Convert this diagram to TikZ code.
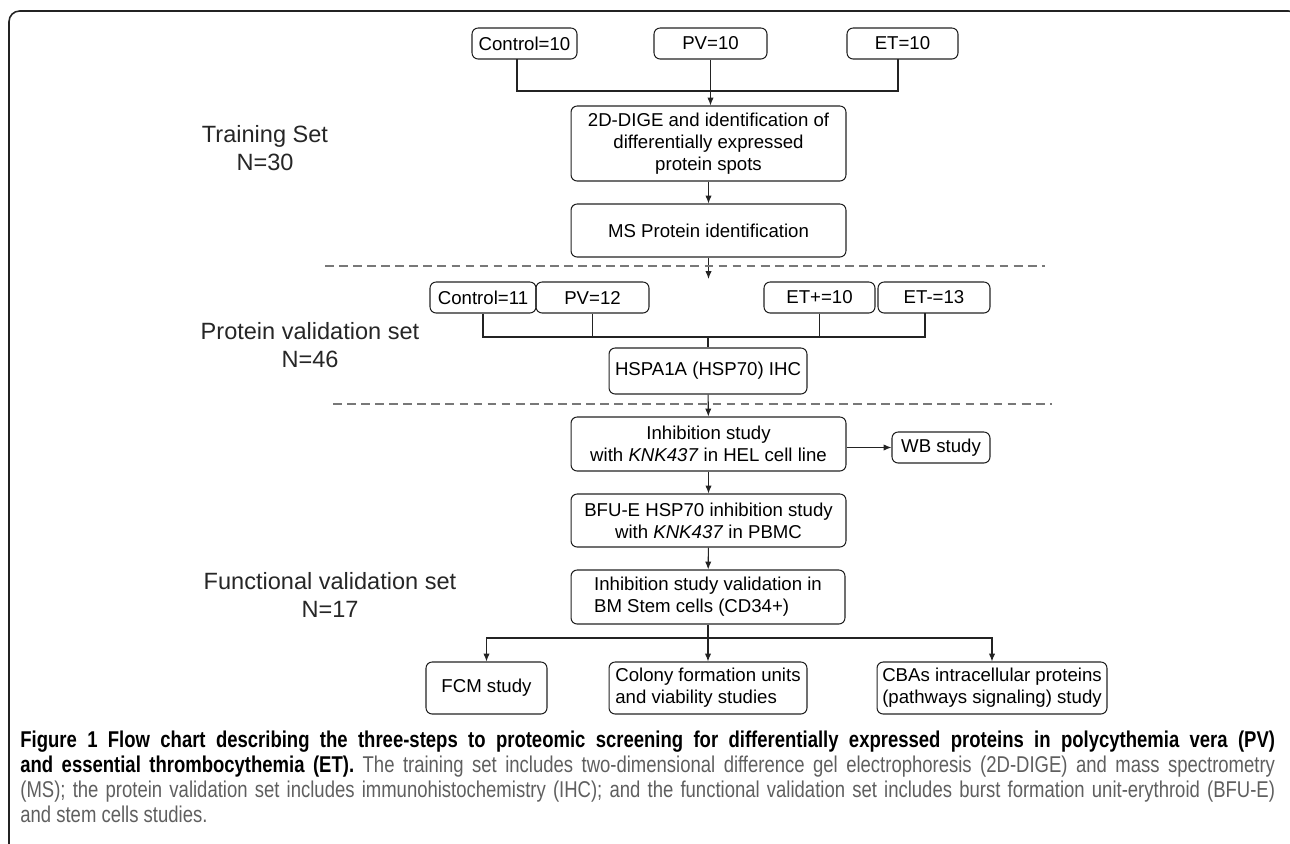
\documentclass[tikz,border=0pt]{standalone}
\usepackage{fontspec}
\setmainfont{Liberation Sans}
\newfontfamily\capfont[FakeStretch=0.81]{Liberation Sans}
\usetikzlibrary{arrows.meta}
\definecolor{linegray}{RGB}{35,35,35}
\definecolor{dashgray}{RGB}{120,120,120}
\definecolor{capgray}{RGB}{95,95,95}

\begin{document}
\begin{tikzpicture}[x=0.02cm,y=-0.02cm,
  box/.style={draw=linegray, line width=0.6pt, rounded corners=3.5pt, inner sep=0pt,
    align=center, font=\fontsize{10.6}{12.5}\selectfont},
  lbl/.style={align=center, text=black!85, font=\fontsize{13.4}{15.6}\selectfont},
  link/.style={draw=linegray, line width=0.6pt},
  arr/.style={link, -{Latex[length=4.5pt,width=3.6pt]}},
  sep/.style={draw=dashgray, line width=0.7pt, dash pattern=on 5pt off 3pt}]
\useasboundingbox (0,0) rectangle (1290,843);
\clip (0,0) rectangle (1290,843);

% frame
\draw[draw=linegray, line width=0.9pt, rounded corners=6pt] (9,860) -- (9,11) -- (1299,11) -- (1299,860);

% left labels
\node[lbl] (trainlbl) at (265,148) {Training Set\\N=30};
\node[lbl, font=\fontsize{13.4}{16.4}\selectfont] (protlbl) at (310,345) {Protein validation set\\N=46};
\node[lbl, font=\fontsize{13.4}{16}\selectfont] (funclbl) at (330,595) {Functional validation set\\N=17};

% training set
\node[box, minimum width=2.1cm, minimum height=0.62cm] (ctrlA) at (524.5,43.5) {Control=10};
\node[box, minimum width=2.26cm, minimum height=0.62cm] (pvA) at (710.5,43.5) {PV=10};
\node[box, minimum width=2.22cm, minimum height=0.62cm] (etA) at (902.5,43.5) {ET=10};
\node[box, minimum width=5.5cm, minimum height=1.5cm] (dige) at (708.5,143.5)
  {2D-DIGE and identification of\\differentially expressed\\protein spots};
\node[box, minimum width=5.5cm, minimum height=1.06cm] (ms) at (708.5,230.5) {MS Protein identification};

\coordinate (stubA) at (517,59);
\coordinate (stubC) at (898,59);
\coordinate (joinA) at (710.5,91);
\draw[link] (stubA) |- (joinA) -| (stubC);
\draw[arr] (pvA.south) -- (pvA.south |- dige.north);
\draw[arr] (dige) -- (ms);
\coordinate (tipA) at (708.5,279);
\draw[arr] (ms.south) -- (tipA);

\coordinate (sepA1) at (325,266);
\coordinate (sepA2) at (1045,266);
\draw[sep] (sepA1) -- (sepA2);

% protein validation set
\node[box, minimum width=2.12cm, minimum height=0.62cm] (ctrlB) at (483,297.5) {Control=11};
\node[box, minimum width=2.26cm, minimum height=0.62cm] (pvB) at (592.5,297.5) {PV=12};
\node[box, minimum width=2.22cm, minimum height=0.62cm] (etpB) at (819.5,297.5) {ET+=10};
\node[box, minimum width=2.24cm, minimum height=0.62cm] (etmB) at (934,297.5) {ET-=13};
\node[box, minimum width=3.96cm, minimum height=0.92cm] (hspa) at (708,371) {HSPA1A (HSP70) IHC};

\coordinate (stubD) at (925,313);
\coordinate (joinB) at (708,337);
\draw[link] (ctrlB.south) |- (joinB) -| (stubD);
\draw[link] (pvB.south) -- (pvB.south |- joinB);
\draw[link] (etpB.south) -- (etpB.south |- joinB);
\draw[link] (joinB) -- (hspa.north);

\coordinate (sepB1) at (333,404);
\coordinate (sepB2) at (1052,404);
\draw[sep] (sepB1) -- (sepB2);

% functional validation set
\node[box, minimum width=5.5cm, minimum height=1.08cm] (inh) at (708.5,444)
  {Inhibition study\\with \textit{KNK437} in HEL cell line};
\node[box, minimum width=1.96cm, minimum height=0.62cm] (wb) at (941,447.5) {WB study};
\node[box, minimum width=5.5cm, minimum height=1.06cm] (bfu) at (708.5,520.5)
  {BFU-E HSP70 inhibition study\\with \textit{KNK437} in PBMC};
\node[box, minimum width=5.48cm, minimum height=1.08cm, align=left] (val) at (708,597)
  {Inhibition study validation in\\BM Stem cells (CD34+)};
\node[box, minimum width=2.42cm, minimum height=1.04cm] (fcm) at (486.5,688) {FCM study};
\node[box, minimum width=3.96cm, minimum height=1.04cm, align=left] (cfu) at (708,688)
  {Colony formation units\\and viability studies};
\node[box, minimum width=4.6cm, minimum height=1.04cm, align=left] (cba) at (992,688)
  {CBAs intracellular proteins\\(pathways signaling) study};

\draw[arr] (hspa) -- (inh);
\draw[arr] (inh.east |- wb.west) -- (wb.west);
\draw[arr] (inh) -- (bfu);
\draw[arr] (bfu) -- (val);
\coordinate (joinC) at (708,638);
\draw[link] (val.south) -- (joinC);
\draw[arr] (joinC) -| (fcm.north);
\draw[arr] (joinC) -| (cba.north);
\draw[arr] (joinC) -- (cfu.north);

% caption
\node[anchor=north west, inner sep=0pt, text width=25.1cm, align=justify,
  font=\capfont\fontsize{13}{14.17}\selectfont] (caption) at (20,731)
  {\hyphenpenalty=10000 {\bfseries Figure 1 Flow chart describing the three-steps to proteomic screening for differentially expressed proteins in polycythemia vera (PV)\linebreak and essential thrombocythemia (ET).} {\color{capgray}The training set includes two-dimensional difference gel electrophoresis (2D-DIGE) and mass spectrometry\linebreak (MS); the protein validation set includes immunohistochemistry (IHC); and the functional validation set includes burst formation unit-erythroid (BFU-E)\linebreak and stem cells studies.}};
\end{tikzpicture}
\end{document}
